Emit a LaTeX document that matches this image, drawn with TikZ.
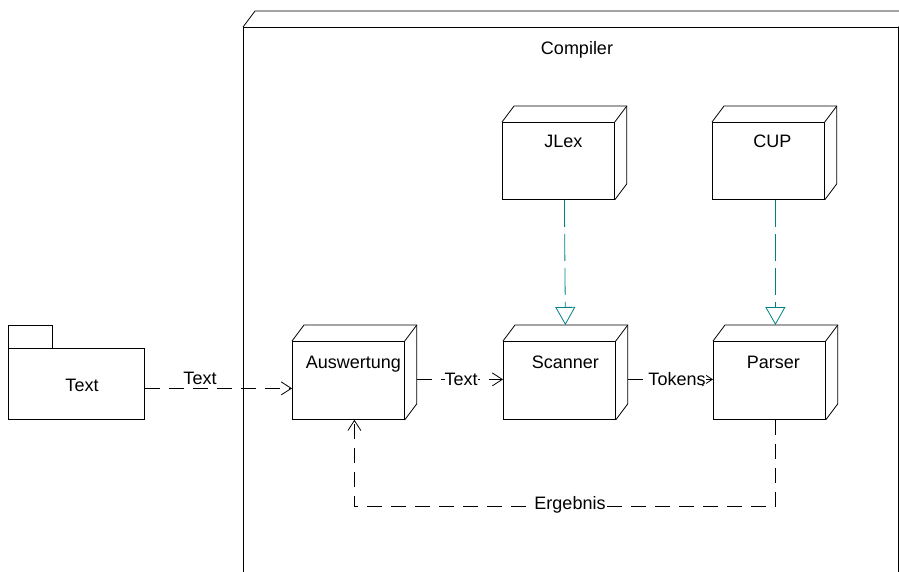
\documentclass[tikz,border=0pt]{standalone}
\usepackage{fontspec}
\setmainfont{Liberation Sans}
\usetikzlibrary{arrows.meta}
\newcommand\cubeedges[1]{%
  \draw[edge] (#1.north west) -- ([shift={(12,16)}]#1.north west)
     -- ([shift={(12,16)}]#1.north east) -- ([shift={(12,16)}]#1.south east)
     -- (#1.south east);
  \draw[edge] (#1.north east) -- ([shift={(12,16)}]#1.north east);}
\begin{document}
\begin{tikzpicture}[x=1pt,y=1pt,
  every node/.style={font=\fontsize{18}{21}\selectfont},
  edge/.style={line width=0.8pt},
  box/.style={draw, line width=0.8pt, minimum width=112pt, minimum height=77pt, inner sep=0pt, anchor=north west},
  dep/.style={line width=0.8pt, dash pattern=on 15pt off 9pt, -{Straight Barb[length=10pt,width=13pt]}},
  gen/.style={draw=teal, line width=0.8pt, dash pattern=on 27pt off 7pt, -{Triangle[open,length=18pt,width=20pt]}},
  lbl/.style={anchor=base, inner sep=0pt},
  clbl/.style={anchor=base, inner sep=0pt, fill=white},
]
\useasboundingbox (0,0) rectangle (899,571);
\clip (0,0) rectangle (899,571);

% Compiler node
\node[box, minimum width=655pt, minimum height=600pt] (comp) at (243,544) {};
\cubeedges{comp}
\node[lbl] (complbl) at (577,516) {Compiler};

% package Text
\node[draw, edge, anchor=north west, minimum width=44pt, minimum height=23pt, inner sep=0pt] (tab) at (8,246) {};
\node[draw, edge, anchor=north west, minimum width=136pt, minimum height=71pt, inner sep=0pt] (pkg) at (8,223) {};
\node[lbl] (pkglbl) at (82,180) {Text};

% nodes
\node[box, minimum height=78pt] (aus) at (292,230) {};
\node[box, minimum height=78pt] (scan) at (503,230) {};
\node[box, minimum height=78pt] (pars) at (713,230) {};
\node[box] (jlex) at (502,449) {};
\node[box] (cup) at (712,449) {};
\foreach \n in {aus,scan,pars,jlex,cup} {\cubeedges{\n}}

\node[lbl] (auslbl) at ([shift={(5,-27)}]aus.north) {Auswertung};
\node[lbl] (scanlbl) at ([shift={(6,-27)}]scan.north) {Scanner};
\node[lbl] (parslbl) at ([shift={(4,-27)}]pars.north) {Parser};
\node[lbl] (jlexlbl) at ([shift={(5,-26)}]jlex.north) {JLex};
\node[lbl] (cuplbl) at ([shift={(4,-26)}]cup.north) {CUP};

% connectors
\draw[dep] ([yshift=-4.5pt]pkg.east) -- ([yshift=-8pt]aus.west);
\node[lbl] at (200,187) {Text};

\draw[dep] ([shift={(12,1)}]aus.east) -- ([yshift=1pt]scan.west);
\node[clbl] at (461,186) {Text};

\draw[dep] ([shift={(12,1)}]scan.east) -- ([yshift=1pt]pars.west);
\node[clbl] at (677,186) {Tokens};

\draw[gen] ([xshift=6pt]jlex.south) -- ([shift={(6,16)}]scan.north);
\draw[gen] ([xshift=7pt]cup.south) -- ([shift={(6,16)}]pars.north);

\draw[dep] ([xshift=6pt]pars.south) -- ++(0,-87) -| ([xshift=6pt]aus.south);
\node[clbl] at (570,62) {Ergebnis};
\end{tikzpicture}
\end{document}
